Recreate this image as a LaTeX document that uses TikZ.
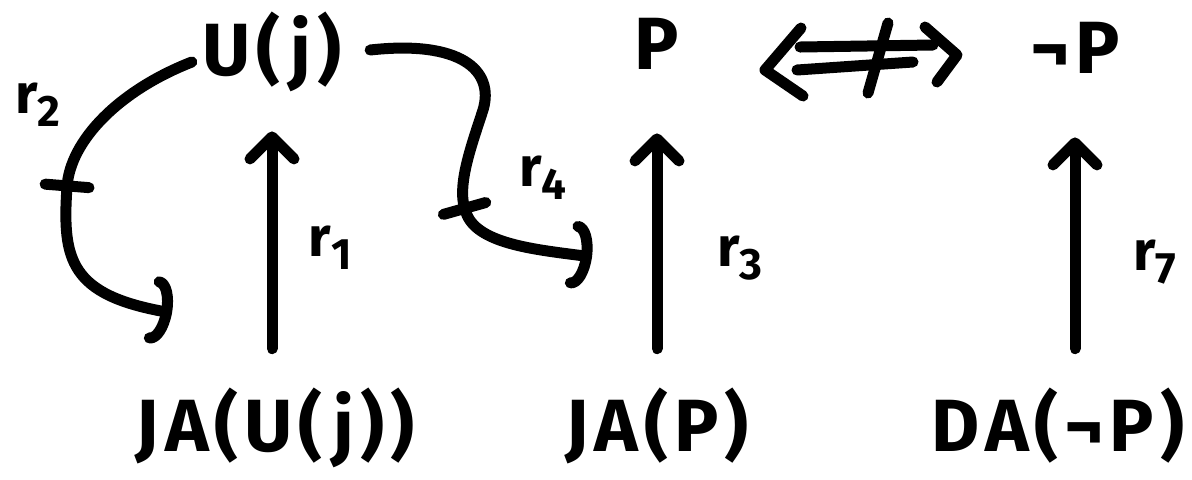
\documentclass[tikz,border=0pt]{standalone}
\usepackage{fontspec}
\setmainfont{Fira Sans}[LetterSpace=8]
\usetikzlibrary{arrows.meta,decorations.markings}

\newcommand{\rlab}[1]{r\raisebox{-0.45ex}{\fontsize{22}{22}\selectfont#1}}

\begin{document}
\begin{tikzpicture}[x=0.5pt, y=-0.5pt, main/.style={inner sep=0pt, text height=27pt, text depth=8pt, font=\fontsize{37}{40}\selectfont\bfseries}, lbl/.style={inner sep=0pt, font=\fontsize{28}{30}\selectfont\bfseries}, hand/.style={line width=5.5pt, line cap=round, line join=round}, up/.style={hand, shorten <=24pt, shorten >=20pt, -{Straight Barb[length=11pt, width=22pt, round]}}, cut/.style={hand, -{Arc Barb[length=9pt, width=34pt, round]}, decoration={markings, mark=at position #1 with {\draw[hand, -] (0,-22) -- (0,22);}}, postaction={decorate}}]
                \useasboundingbox (0,0) rectangle (1192,479);
                % nodes
                \node[main] (u) at (272,56) {U(j)};
                \node[main] (p) at (657,50) {P};
                \node[main] (np) at (1075,54) {¬P};
                \node[main] (jau) at (275,432) {JA(U(j))};
                \node[main] (jap) at (657,432) {JA(P)};
                \node[main] (danp) at (1058,432) {DA(¬P)};
                \node[lbl] (r1) at (330,248) {\rlab{1}};
                \node[lbl] (r2) at (38,105) {\rlab{2}};
                \node[lbl] (r3) at (740,258) {\rlab{3}};
                \node[lbl] (r4) at (543,178) {\rlab{4}};
                \node[lbl] (r7) at (1155,262) {\rlab{7}};
                \coordinate (r2end) at (172,313);
                \coordinate (r4end) at (592,257);
                \coordinate (neqL) at (765,70);
                \coordinate (neqR) at (957,55);
                % edges
                \draw[up] (u.south |- jau.north) -- (u.south);
                \draw[up, shorten >=24pt] (jap) -- (p);
                \draw[up, shorten >=24pt] (np.south |- danp.north) -- (np.south);
                \draw[cut=0.49] ([xshift=-5pt, yshift=-3pt]u.west) .. controls (120,90) and (70,140) .. (67,187) .. controls (62,260) and (70,295) .. (r2end);
                \draw[cut=0.64] ([xshift=14pt, yshift=3pt]u.east) .. controls (460,40) and (495,70) .. (483,110) .. controls (470,150) and (455,190) .. (467,215) .. controls (480,245) and (540,250) .. (r4end);
                % crossed double arrow between P and its negation
                \draw[hand] ([shift={(36,-42)}]neqL) -- (neqL) -- ([shift={(38,26)}]neqL);
                \draw[hand] ([shift={(-32,-28)}]neqR) -- (neqR) -- ([shift={(-20,27)}]neqR);
                \draw[hand] ([shift={(35,-23)}]neqL) -- ([shift={(-24,-10)}]neqR);
                \draw[hand] ([shift={(32,0)}]neqL) -- ([shift={(-44,7)}]neqR);
                \draw[hand] (888,23) -- (868,93);
            \end{tikzpicture}
\end{document}
